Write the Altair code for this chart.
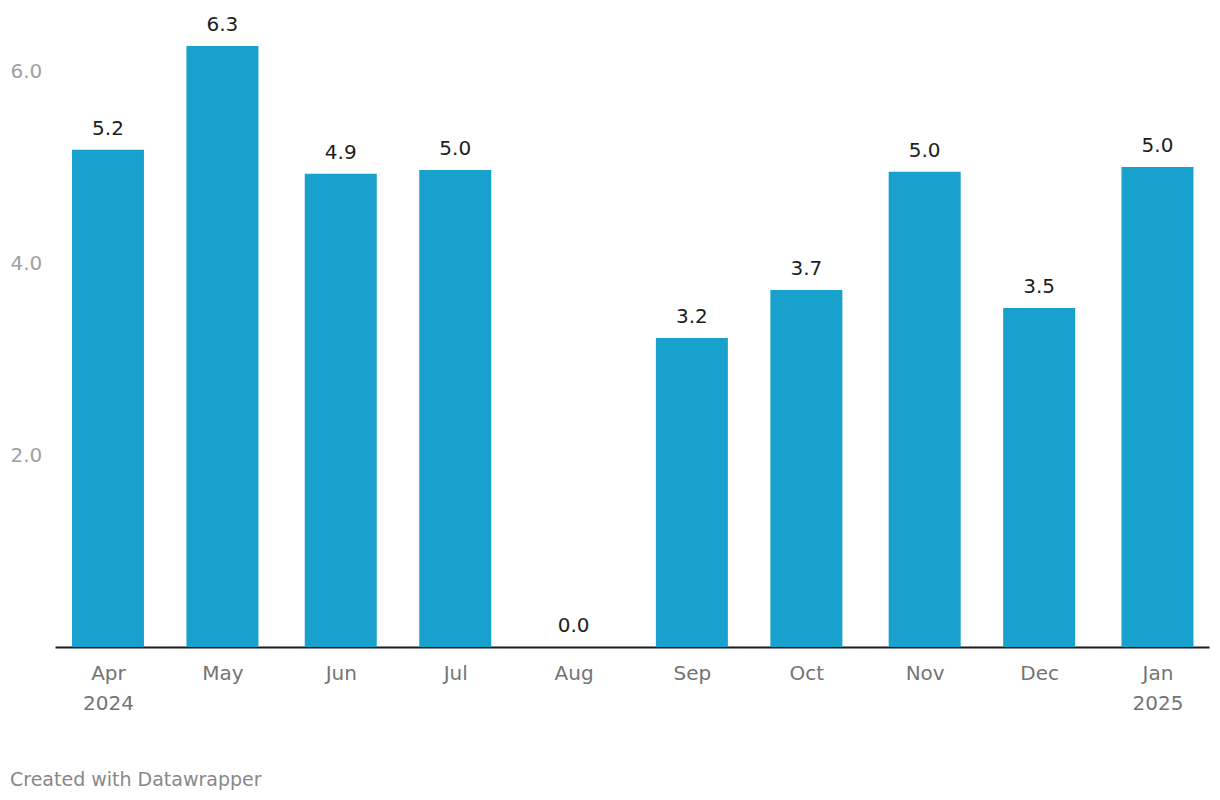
import altair as alt
import pandas as pd

months = ["2024-04-01", "2024-05-01", "2024-06-01", "2024-07-01", "2024-08-01",
          "2024-09-01", "2024-10-01", "2024-11-01", "2024-12-01", "2025-01-01"]
values = [5.18, 6.26, 4.93, 4.97, 0.0, 3.22, 3.72, 4.95, 3.53, 5.0]
y_ticks = [2, 4, 6]

df = pd.DataFrame({"date": months, "value": values})

tick_dates = []
for m in months:
    y, mo, d = (int(p) for p in m.split("-"))
    tick_dates.append(alt.DateTime(year=y, month=mo, date=d, utc=True))

FONT = "DejaVu Sans"

x = alt.X(
    "date:T",
    scale=alt.Scale(
        type="utc",
        padding=0,
        nice=False,
        domain=[alt.DateTime(year=2024, month=3, date=18, hours=3, utc=True),
                alt.DateTime(year=2025, month=1, date=14, hours=12, utc=True)],
    ),
    axis=alt.Axis(
        title=None,
        values=tick_dates,
        labelExpr="(utcmonth(datum.value)==3 || utcmonth(datum.value)==0) ? [utcFormat(datum.value,'%b'), utcFormat(datum.value,'%Y')] : utcFormat(datum.value,'%b')",
        ticks=False,
        tickSize=0,
        grid=False,
        domain=True,
        domainColor="#1d1d1d",
        domainWidth=2,
        labelFont=FONT,
        labelFontSize=20,
        labelColor="#747474",
        labelPadding=16,
        labelLineHeight=30,
        labelFlush=False,
        labelOverlap=False,
    ),
)

y = alt.Y(
    "value:Q",
    scale=alt.Scale(domain=[0, 6.5], nice=False, zero=True),
    axis=alt.Axis(
        title=None,
        values=y_ticks,
        format=".1f",
        ticks=False,
        tickSize=0,
        grid=False,
        domain=False,
        labelFont=FONT,
        labelFontSize=20,
        labelColor="#a0a0a0",
        labelAlign="left",
        labelBaseline="middle",
        labelPadding=45,
    ),
)

bars = alt.Chart(df).mark_bar(size=72, color="#18a1cd").encode(x=x, y=y)

labels = alt.Chart(df).mark_text(
    font=FONT, fontSize=20, color="#1d1d1d", baseline="alphabetic", dy=-15
).encode(
    x=alt.X("date:T"),
    y=alt.Y("value:Q"),
    text=alt.Text("value:Q", format=".1f"),
)

chart = alt.layer(bars, labels).properties(
    width=1154,
    height=624,
    autosize=alt.AutoSizeParams(type="none"),
    padding={"left": 47, "top": 15, "right": 3, "bottom": 145},
    title=alt.TitleParams(
        "Created with Datawrapper",
        orient="bottom",
        anchor="start",
        frame="group",
        dx=-45,
        offset=58,
        font=FONT,
        fontSize=19,
        fontWeight="normal",
        color="#888888",
    ),
).configure_view(stroke=None)

chart.save("out.html", embed_options={"renderer": "svg", "actions": False})
